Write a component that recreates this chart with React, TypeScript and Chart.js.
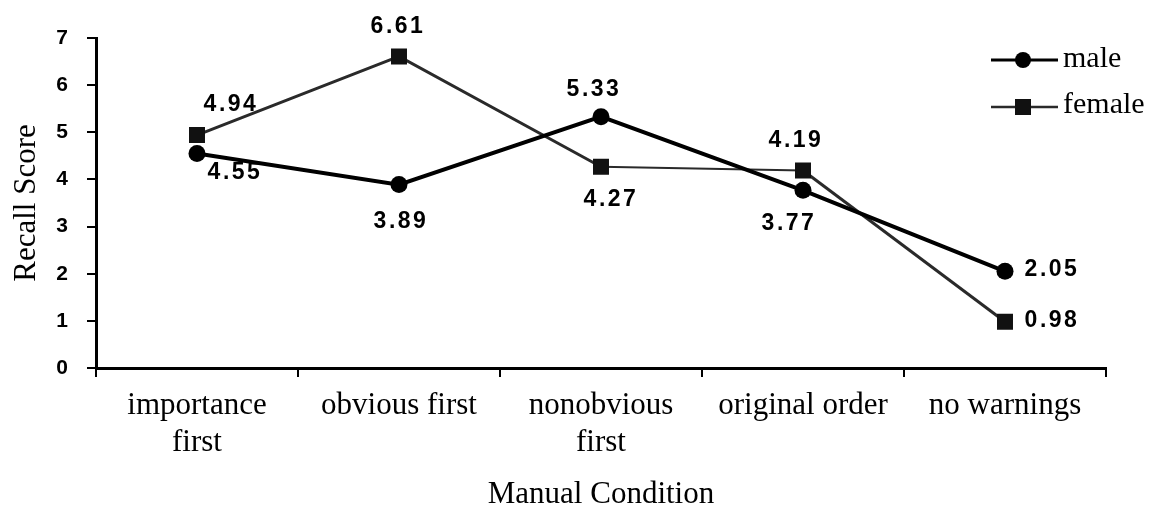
import React, { useEffect, useRef } from "react";
import { Chart, registerables } from "chart.js";

Chart.register(...registerables);

const categories: (string | string[])[] = [
  ["importance", "first"],
  "obvious first",
  ["nonobvious", "first"],
  "original order",
  "no warnings",
];
const maleValues = [4.55, 3.89, 5.33, 3.77, 2.05];
const femaleValues = [4.94, 6.61, 4.27, 4.19, 0.98];
const maleLabels = ["4.55", "3.89", "5.33", "3.77", "2.05"];
const femaleLabels = ["4.94", "6.61", "4.27", "4.19", "0.98"];
const yMin = 0;
const yMax = 7;
const yStep = 1;
const seriesNames = ["male", "female"];

// label offsets (px) relative to each point
const maleLabelOffsets = [
  [37, 19],
  [1, 37],
  [-8, -27],
  [-15, 33],
  [46, -2],
];
const femaleLabelOffsets = [
  [33, -30],
  [-2, -30],
  [9, 33],
  [-8, -30],
  [46, -1],
];

const SERIF = "'Liberation Serif', 'Times New Roman', serif";
const SANS = "'Liberation Sans', Arial, sans-serif";

export default function App() {
  const ref = useRef<HTMLCanvasElement | null>(null);

  useEffect(() => {
    if (!ref.current) return;

    const labelPlugin = {
      id: "valueLabels",
      afterDatasetsDraw(chart: any) {
        const ctx = chart.ctx;
        ctx.save();
        ctx.fillStyle = "#000";
        ctx.font = `bold 23px ${SANS}`;
        ctx.textAlign = "center";
        ctx.textBaseline = "middle";
        try {
          (ctx as any).letterSpacing = "2.5px";
        } catch (e) {}
        const sets = [
          { meta: chart.getDatasetMeta(0), labels: maleLabels, offs: maleLabelOffsets },
          { meta: chart.getDatasetMeta(1), labels: femaleLabels, offs: femaleLabelOffsets },
        ];
        sets.forEach((s) => {
          s.meta.data.forEach((pt: any, i: number) => {
            ctx.fillText(s.labels[i], pt.x + s.offs[i][0] + 1, pt.y + s.offs[i][1]);
          });
        });
        ctx.restore();
      },
    };

    const legendPlugin = {
      id: "customLegend",
      afterDraw(chart: any) {
        const ctx = chart.ctx;
        ctx.save();
        const x0 = 991;
        const x1 = 1058;
        const xm = 1023;
        // male
        ctx.strokeStyle = "#000";
        ctx.lineWidth = 3;
        ctx.beginPath();
        ctx.moveTo(x0, 60);
        ctx.lineTo(x1, 60);
        ctx.stroke();
        ctx.fillStyle = "#000";
        ctx.beginPath();
        ctx.arc(xm, 60, 8, 0, Math.PI * 2);
        ctx.fill();
        // female
        ctx.strokeStyle = "#2a2a2a";
        ctx.lineWidth = 2.5;
        ctx.beginPath();
        ctx.moveTo(x0, 107);
        ctx.lineTo(x1, 107);
        ctx.stroke();
        ctx.fillStyle = "#111";
        ctx.fillRect(xm - 8, 99, 16, 16);
        ctx.fillStyle = "#000";
        ctx.font = `30px ${SERIF}`;
        ctx.textAlign = "left";
        ctx.textBaseline = "alphabetic";
        ctx.fillText(seriesNames[0], 1063, 67);
        ctx.fillText(seriesNames[1], 1063, 113);
        ctx.restore();
      },
    };

    const chart = new Chart(ref.current, {
      type: "line",
      data: {
        labels: categories as any,
        datasets: [
          {
            label: seriesNames[0],
            data: maleValues,
            borderColor: "#000",
            backgroundColor: "#000",
            borderWidth: 4,
            pointStyle: "circle",
            pointRadius: 8.5,
            pointBorderWidth: 0,
            pointBackgroundColor: "#000",
            tension: 0,
          },
          {
            label: seriesNames[1],
            data: femaleValues,
            borderColor: "#2a2a2a",
            backgroundColor: "#111",
            borderWidth: 3,
            segment: {
              borderWidth: (c: any) => (c.p0DataIndex === 2 ? 2 : 3),
            },
            pointStyle: "rect",
            pointRadius: 11.3,
            pointBorderWidth: 0,
            pointBackgroundColor: "#111",
            tension: 0,
          },
        ],
      },
      options: {
        responsive: false,
        animation: false,
        events: [],
        layout: { padding: { top: 38, right: 47, left: 0, bottom: 0 } },
        plugins: {
          legend: { display: false },
          tooltip: { enabled: false },
          title: { display: false },
        },
        scales: {
          x: {
            type: "category",
            offset: true,
            afterFit: (s: any) => {
              s.height = 139;
            },
            grid: {
              offset: true,
              drawOnChartArea: false,
              drawTicks: true,
              tickLength: 9,
              color: "#000",
              lineWidth: 2,
            },
            border: { display: true, color: "#000", width: 3 },
            ticks: {
              color: "#000",
              padding: 10,
              maxRotation: 0,
              minRotation: 0,
              autoSkip: false,
              font: { family: SERIF, size: 31, lineHeight: 1.2 },
            },
            title: {
              display: true,
              text: "Manual Condition",
              color: "#000",
              font: { family: SERIF, size: 31, lineHeight: 0.8 },
              padding: { top: 0, bottom: 0 },
            },
          },
          y: {
            min: yMin,
            max: yMax,
            afterFit: (s: any) => {
              s.width = 96;
            },
            grid: {
              drawOnChartArea: false,
              drawTicks: true,
              tickLength: 9,
              color: "#000",
              lineWidth: 2,
            },
            border: { display: true, color: "#000", width: 3 },
            ticks: {
              stepSize: yStep,
              color: "#000",
              padding: 19,
              font: { family: SANS, size: 21, weight: "bold" },
            },
            title: {
              display: true,
              text: "Recall Score",
              color: "#000",
              font: { family: SERIF, size: 31, lineHeight: 1.2 },
              padding: { top: 8, bottom: 0 },
            },
          },
        },
      },
      plugins: [labelPlugin, legendPlugin],
    } as any);

    return () => chart.destroy();
  }, []);

  return (
    <div style={{ position: "absolute", left: 0, top: 0, width: 1153, height: 507, background: "#fff" }}>
      <canvas ref={ref} width={1153} height={507} style={{ display: "block" }} />
    </div>
  );
}
